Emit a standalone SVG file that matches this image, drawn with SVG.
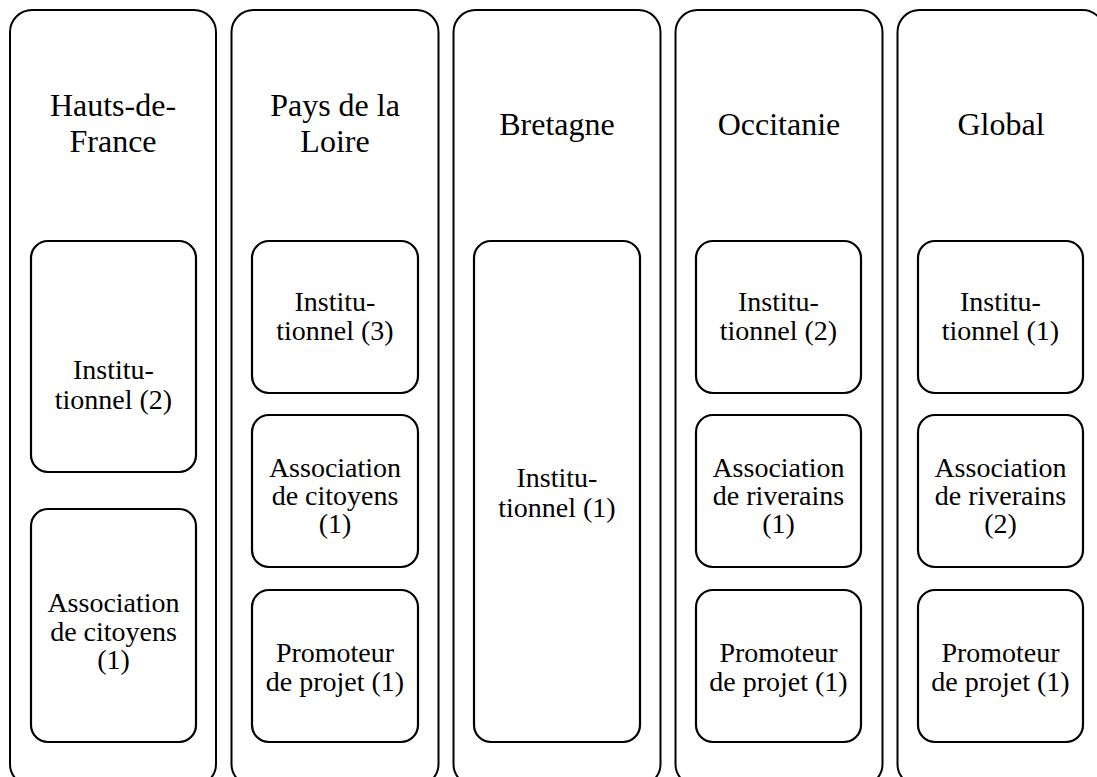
<svg xmlns="http://www.w3.org/2000/svg" width="1097" height="777" viewBox="0 0 1097 777">
  <style>
    .col { fill: #ffffff; stroke: #000000; stroke-width: 2; }
    .box { fill: #ffffff; stroke: #000000; stroke-width: 2.2; }
    .head { font-size: 32px; fill: #000000; text-anchor: middle; }
    .lbl { font-size: 28px; fill: #000000; text-anchor: middle; }
  </style>
  <rect width="1097" height="777" fill="#ffffff"/>

  <g font-family="Liberation Serif, Times New Roman, DejaVu Serif, serif">
  <!-- Region columns -->
  <g id="col-hauts-de-france">
    <rect class="col" x="10" y="10" width="206" height="776" rx="22"/>
    <text class="head" x="113" y="116">Hauts-de-</text>
    <text class="head" x="113" y="152">France</text>
  </g>
  <g id="col-pays-de-la-loire">
    <rect class="col" x="231.5" y="10" width="207" height="776" rx="22"/>
    <text class="head" x="335" y="116">Pays de la</text>
    <text class="head" x="335" y="152">Loire</text>
  </g>
  <g id="col-bretagne">
    <rect class="col" x="453.5" y="10" width="207" height="776" rx="22"/>
    <text class="head" x="557" y="135">Bretagne</text>
  </g>
  <g id="col-occitanie">
    <rect class="col" x="675.5" y="10" width="207" height="776" rx="22"/>
    <text class="head" x="779" y="135">Occitanie</text>
  </g>
  <g id="col-global">
    <rect class="col" x="897.5" y="10" width="207" height="776" rx="22"/>
    <text class="head" x="1001" y="135">Global</text>
  </g>

  <!-- Hauts-de-France entries -->
  <g id="hdf-institutionnel">
    <rect class="box" x="31" y="241" width="165" height="231" rx="17"/>
    <text class="lbl" x="113.5" y="379">Institu-</text>
    <text class="lbl" x="113.5" y="409">tionnel (2)</text>
  </g>
  <g id="hdf-association">
    <rect class="box" x="31" y="509" width="165" height="233" rx="17"/>
    <text class="lbl" x="113.5" y="612">Association</text>
    <text class="lbl" x="113.5" y="641">de citoyens</text>
    <text class="lbl" x="113.5" y="669">(1)</text>
  </g>

  <!-- Pays de la Loire entries -->
  <g id="pdl-institutionnel">
    <rect class="box" x="252" y="241" width="166" height="152" rx="17"/>
    <text class="lbl" x="335" y="311">Institu-</text>
    <text class="lbl" x="335" y="340">tionnel (3)</text>
  </g>
  <g id="pdl-association">
    <rect class="box" x="252" y="415" width="166" height="152" rx="17"/>
    <text class="lbl" x="335" y="477">Association</text>
    <text class="lbl" x="335" y="505">de citoyens</text>
    <text class="lbl" x="335" y="533">(1)</text>
  </g>
  <g id="pdl-promoteur">
    <rect class="box" x="252" y="590" width="166" height="152" rx="17"/>
    <text class="lbl" x="335" y="662">Promoteur</text>
    <text class="lbl" x="335" y="691">de projet (1)</text>
  </g>

  <!-- Bretagne entry -->
  <g id="bre-institutionnel">
    <rect class="box" x="474" y="241" width="166" height="501" rx="17"/>
    <text class="lbl" x="557" y="487">Institu-</text>
    <text class="lbl" x="557" y="517">tionnel (1)</text>
  </g>

  <!-- Occitanie entries -->
  <g id="occ-institutionnel">
    <rect class="box" x="696" y="241" width="165" height="152" rx="17"/>
    <text class="lbl" x="778.5" y="311">Institu-</text>
    <text class="lbl" x="778.5" y="340">tionnel (2)</text>
  </g>
  <g id="occ-association">
    <rect class="box" x="696" y="415" width="165" height="152" rx="17"/>
    <text class="lbl" x="778.5" y="477">Association</text>
    <text class="lbl" x="778.5" y="505">de riverains</text>
    <text class="lbl" x="778.5" y="533">(1)</text>
  </g>
  <g id="occ-promoteur">
    <rect class="box" x="696" y="590" width="165" height="152" rx="17"/>
    <text class="lbl" x="778.5" y="662">Promoteur</text>
    <text class="lbl" x="778.5" y="691">de projet (1)</text>
  </g>

  <!-- Global entries -->
  <g id="glb-institutionnel">
    <rect class="box" x="918" y="241" width="165" height="152" rx="17"/>
    <text class="lbl" x="1000.5" y="311">Institu-</text>
    <text class="lbl" x="1000.5" y="340">tionnel (1)</text>
  </g>
  <g id="glb-association">
    <rect class="box" x="918" y="415" width="165" height="152" rx="17"/>
    <text class="lbl" x="1000.5" y="477">Association</text>
    <text class="lbl" x="1000.5" y="505">de riverains</text>
    <text class="lbl" x="1000.5" y="533">(2)</text>
  </g>
  <g id="glb-promoteur">
    <rect class="box" x="918" y="590" width="165" height="152" rx="17"/>
    <text class="lbl" x="1000.5" y="662">Promoteur</text>
    <text class="lbl" x="1000.5" y="691">de projet (1)</text>
  </g>
  </g>

  <!-- No connectors in this layout -->
  <g id="connectors"/>
</svg>
